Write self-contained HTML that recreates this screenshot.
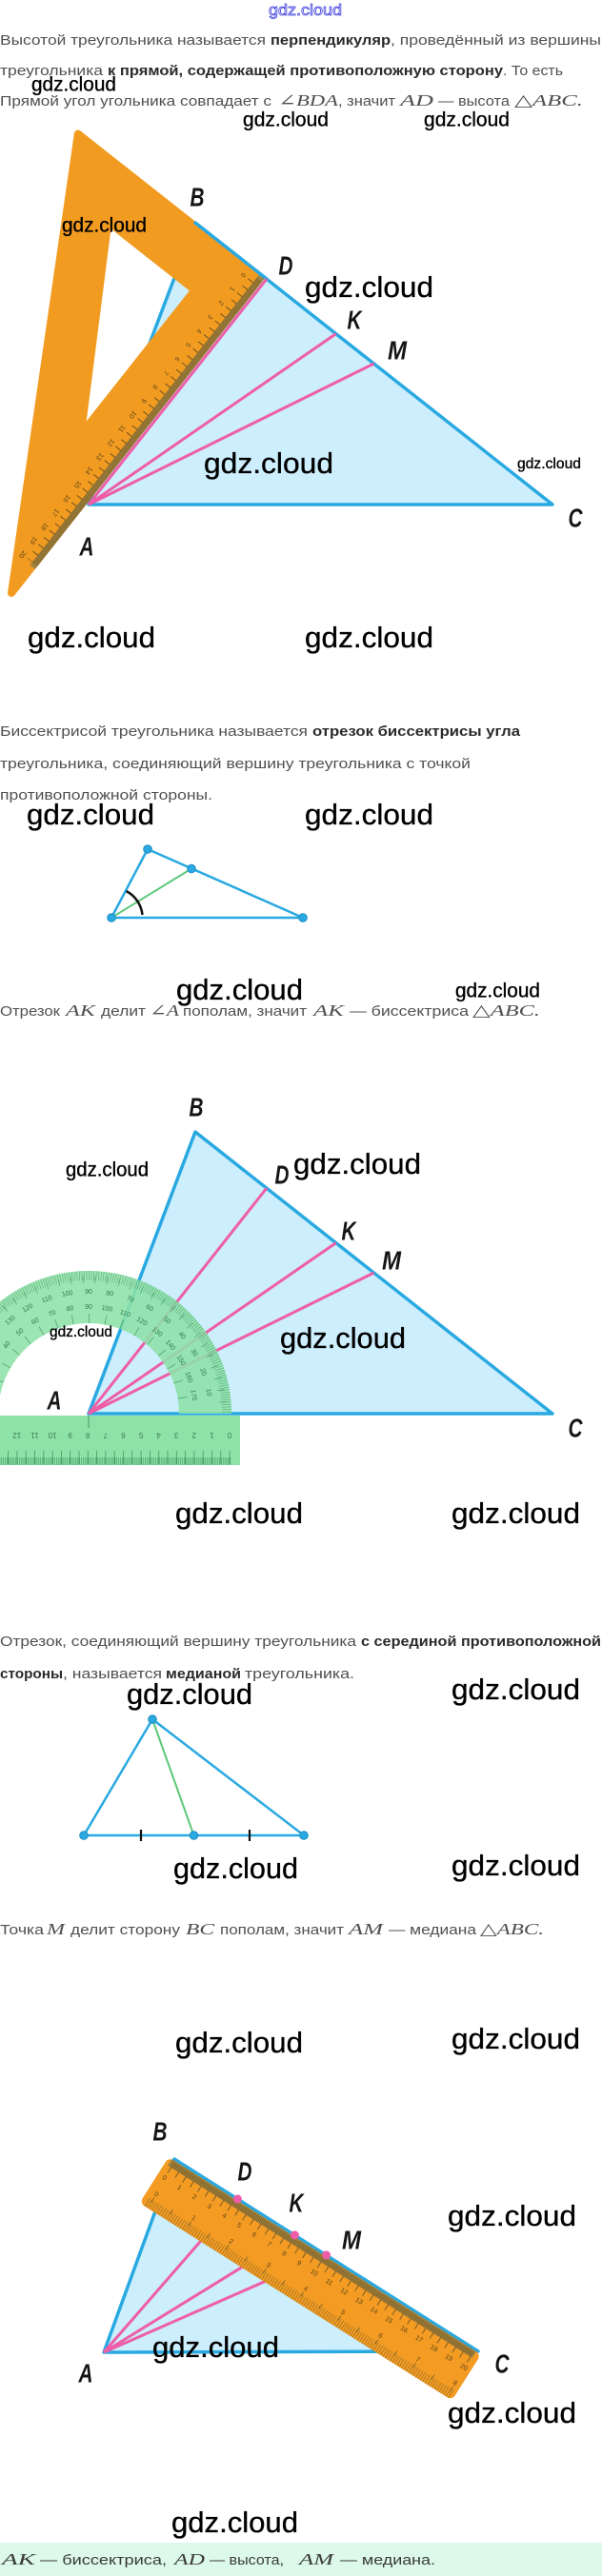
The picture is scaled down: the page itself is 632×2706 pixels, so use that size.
<!DOCTYPE html>
<html><head><meta charset="utf-8">
<style>
html,body{margin:0;padding:0;background:#fff;}
svg{display:block}
.r{font-family:"Liberation Sans","DejaVu Sans",sans-serif;font-size:15px;fill:#505050}
.b{font-family:"Liberation Sans","DejaVu Sans",sans-serif;font-size:15px;font-weight:bold;fill:#2a2a2a}
.m{font-family:"Liberation Serif","DejaVu Serif",serif;font-style:italic;font-size:17px;fill:#505050}
.w{font-family:"Liberation Sans","DejaVu Sans",sans-serif;fill:#000;stroke:#000;stroke-width:0.35}
.L{font-family:"Liberation Sans","DejaVu Sans",sans-serif;font-style:italic;font-weight:bold;font-size:28px;fill:#151515}
.pn{font-family:"Liberation Sans",sans-serif;font-size:7px;fill:#2f7a4a;text-anchor:middle}
.sn{font-family:"Liberation Sans",sans-serif;font-size:7px;fill:#5a4418;text-anchor:middle}
.rn{font-family:"Liberation Sans",sans-serif;font-size:8px;fill:#3d7a50;text-anchor:middle}
</style></head><body>
<svg xmlns="http://www.w3.org/2000/svg" width="632" height="2706" viewBox="0 0 632 2706">
<rect x="0" y="0" width="632" height="2706" fill="#fff"/>
<defs>
<clipPath id="up"><rect x="-100" y="1300" width="400" height="185"/></clipPath>
</defs>

<!-- top link -->
<text x="282" y="16" font-family="Liberation Sans, sans-serif" font-size="17" textLength="77" lengthAdjust="spacingAndGlyphs" style="fill:#fff;stroke:#4040e0;stroke-width:0.8">gdz.cloud</text>

<!-- Paragraph 1 -->
<text class="r" x="0" y="47" textLength="279" lengthAdjust="spacingAndGlyphs">Высотой треугольника называется</text>
<text class="b" x="284" y="47" textLength="126" lengthAdjust="spacingAndGlyphs">перпендикуляр</text>
<text class="r" x="410" y="47" textLength="221" lengthAdjust="spacingAndGlyphs">, проведённый из вершины</text>
<text class="r" x="0" y="79" textLength="108" lengthAdjust="spacingAndGlyphs">треугольника</text>
<text class="b" x="113" y="79" textLength="415" lengthAdjust="spacingAndGlyphs">к прямой, содержащей противоположную сторону</text>
<text class="r" x="528" y="79" textLength="63" lengthAdjust="spacingAndGlyphs">. То есть</text>
<text class="r" x="0" y="111" textLength="285" lengthAdjust="spacingAndGlyphs">Прямой угол угольника совпадает с</text>
<text class="m" x="292" y="111" textLength="63" lengthAdjust="spacingAndGlyphs">∠BDA</text>
<text class="r" x="355" y="111" textLength="60" lengthAdjust="spacingAndGlyphs">, значит</text>
<text class="m" x="420" y="111" textLength="35" lengthAdjust="spacingAndGlyphs">AD</text>
<text class="r" x="460" y="111" textLength="75" lengthAdjust="spacingAndGlyphs">— высота</text>
<text class="m" x="540" y="111" textLength="72" lengthAdjust="spacingAndGlyphs">△ABC.</text>

<!-- Figure 1 -->
<polygon points="93,530 205,234 580,530" fill="#cdeefc" stroke="#29a9e1" stroke-width="3.5" stroke-linejoin="round"/>
<line x1="93" y1="530" x2="352.7" y2="350.6" stroke="#ee5ea8" stroke-width="3"/>
<line x1="93" y1="530" x2="392.5" y2="382" stroke="#ee5ea8" stroke-width="3"/>
<g transform="translate(280 293) rotate(128.27)">
  <path d="M3,6 L425,6 L3,250 Z M56,52 L56,168 L249,52 Z" fill="#f29b21" fill-rule="evenodd" stroke="#f29b21" stroke-width="8" stroke-linejoin="round"/>
  <rect x="0" y="2" width="390" height="7" fill="#a5843f"/>
  <line x1="6" y1="5.5" x2="386" y2="5.5" stroke="#6b5220" stroke-width="7" stroke-dasharray="0.6 1.27"/>
  <line x1="11.5" y1="12" x2="386" y2="12" stroke="#6b5220" stroke-width="7" stroke-dasharray="1 8.35"/>
  <text class="sn" x="12" y="24">0</text><text class="sn" x="30.7" y="24">1</text><text class="sn" x="49.4" y="24">2</text><text class="sn" x="68.1" y="24">3</text><text class="sn" x="86.8" y="24">4</text><text class="sn" x="105.5" y="24">5</text><text class="sn" x="124.2" y="24">6</text><text class="sn" x="142.9" y="24">7</text><text class="sn" x="161.6" y="24">8</text><text class="sn" x="180.3" y="24">9</text><text class="sn" x="199" y="24">10</text><text class="sn" x="217.7" y="24">11</text><text class="sn" x="236.4" y="24">12</text><text class="sn" x="255.1" y="24">13</text><text class="sn" x="273.8" y="24">14</text><text class="sn" x="292.5" y="24">15</text><text class="sn" x="311.2" y="24">16</text><text class="sn" x="329.9" y="24">17</text><text class="sn" x="348.6" y="24">18</text><text class="sn" x="367.3" y="24">19</text><text class="sn" x="386" y="24">20</text>
</g>
<line x1="205" y1="234" x2="280" y2="293" stroke="#29a9e1" stroke-width="3.5" stroke-linecap="round"/>
<line x1="93" y1="530" x2="280" y2="293" stroke="#ee5ea8" stroke-width="3"/>
<text class="L" x="199.5" y="216.5" textLength="15" lengthAdjust="spacingAndGlyphs">B</text>
<text class="L" x="292.5" y="288.5" textLength="15" lengthAdjust="spacingAndGlyphs">D</text>
<text class="L" x="364.5" y="345.5" textLength="15" lengthAdjust="spacingAndGlyphs">K</text>
<text class="L" x="407" y="377.5" textLength="20" lengthAdjust="spacingAndGlyphs">M</text>
<text class="L" x="596.5" y="553.5" textLength="15" lengthAdjust="spacingAndGlyphs">C</text>
<text class="L" x="83.5" y="583.5" textLength="15" lengthAdjust="spacingAndGlyphs">A</text>

<!-- Paragraph 2 -->
<text class="r" x="0" y="773" textLength="323" lengthAdjust="spacingAndGlyphs">Биссектрисой треугольника называется</text>
<text class="b" x="328" y="773" textLength="218" lengthAdjust="spacingAndGlyphs">отрезок биссектрисы угла</text>
<text class="r" x="0" y="807" textLength="494" lengthAdjust="spacingAndGlyphs">треугольника, соединяющий вершину треугольника с точкой</text>
<text class="r" x="0" y="840" textLength="223" lengthAdjust="spacingAndGlyphs">противоположной стороны.</text>

<!-- Small bisector triangle -->
<polygon points="117,964 155,892 318,964" fill="none" stroke="#29a9e1" stroke-width="2.5" stroke-linejoin="round"/>
<line x1="117" y1="964" x2="201" y2="912.5" stroke="#5cc878" stroke-width="2"/>
<path d="M149.5,961 A32,32 0 0 0 132.5,936" fill="none" stroke="#111" stroke-width="2.5"/>
<g fill="#29a9e1" stroke="#1f8cc4" stroke-width="1">
<circle cx="117" cy="964" r="4.3"/><circle cx="155" cy="892" r="4.3"/><circle cx="201" cy="912.5" r="4.3"/><circle cx="318" cy="964" r="4.3"/>
</g>

<!-- Paragraph 3 -->
<text class="r" x="0" y="1067" textLength="63" lengthAdjust="spacingAndGlyphs">Отрезок</text>
<text class="m" x="69" y="1067" textLength="31" lengthAdjust="spacingAndGlyphs">AK</text>
<text class="r" x="106" y="1067" textLength="47" lengthAdjust="spacingAndGlyphs">делит</text>
<text class="m" x="157" y="1067" textLength="31" lengthAdjust="spacingAndGlyphs">∠A</text>
<text class="r" x="192" y="1067" textLength="130" lengthAdjust="spacingAndGlyphs">пополам, значит</text>
<text class="m" x="329" y="1067" textLength="32" lengthAdjust="spacingAndGlyphs">AK</text>
<text class="r" x="367" y="1067" textLength="125" lengthAdjust="spacingAndGlyphs">— биссектриса</text>
<text class="m" x="496" y="1067" textLength="71" lengthAdjust="spacingAndGlyphs">△ABC.</text>

<!-- Figure 2 -->
<polygon points="93,1485 205,1189 580,1485" fill="#cdeefc" stroke="#29a9e1" stroke-width="3.5" stroke-linejoin="round"/>
<line x1="93" y1="1485" x2="280" y2="1248" stroke="#ee5ea8" stroke-width="3"/>
<line x1="93" y1="1485" x2="352.7" y2="1305.6" stroke="#ee5ea8" stroke-width="3"/>
<line x1="93" y1="1485" x2="392.5" y2="1337" stroke="#ee5ea8" stroke-width="3"/>
<g opacity="0.88">
  <path d="M-57,1485 A150,150 0 0 1 243,1485 L188,1485 A95,95 0 0 0 -2,1485 Z" fill="#8ee2a8"/>
  <g clip-path="url(#up)" fill="none" stroke="#3f9a60">
    <circle cx="93" cy="1485" r="145" stroke-width="10" stroke-dasharray="0.5 2.0307"/>
    <circle cx="93" cy="1485" r="141" stroke-width="8" stroke-dasharray="0.7 11.953"/>
    <circle cx="93" cy="1485" r="100" stroke-width="10" stroke-dasharray="0.8 16.653"/>
  </g>
</g>
<g>
<text class="pn" transform="translate(93 1485) rotate(80) translate(0 -126)">10</text>
<text class="pn" transform="translate(93 1485) rotate(70) translate(0 -126)">20</text>
<text class="pn" transform="translate(93 1485) rotate(60) translate(0 -126)">30</text>
<text class="pn" transform="translate(93 1485) rotate(50) translate(0 -126)">40</text>
<text class="pn" transform="translate(93 1485) rotate(40) translate(0 -126)">50</text>
<text class="pn" transform="translate(93 1485) rotate(30) translate(0 -126)">60</text>
<text class="pn" transform="translate(93 1485) rotate(20) translate(0 -126)">70</text>
<text class="pn" transform="translate(93 1485) rotate(10) translate(0 -126)">80</text>
<text class="pn" transform="translate(93 1485) rotate(0) translate(0 -126)">90</text>
<text class="pn" transform="translate(93 1485) rotate(-10) translate(0 -126)">100</text>
<text class="pn" transform="translate(93 1485) rotate(-20) translate(0 -126)">110</text>
<text class="pn" transform="translate(93 1485) rotate(-30) translate(0 -126)">120</text>
<text class="pn" transform="translate(93 1485) rotate(-40) translate(0 -126)">130</text>
<text class="pn" transform="translate(93 1485) rotate(-50) translate(0 -126)">140</text>
<text class="pn" transform="translate(93 1485) rotate(-60) translate(0 -126)">150</text>
<text class="pn" transform="translate(93 1485) rotate(-70) translate(0 -126)">160</text>
<text class="pn" transform="translate(93 1485) rotate(-80) translate(0 -126)">170</text>
<text class="pn" transform="translate(93 1485) rotate(80) translate(0 -110)">170</text>
<text class="pn" transform="translate(93 1485) rotate(70) translate(0 -110)">160</text>
<text class="pn" transform="translate(93 1485) rotate(60) translate(0 -110)">150</text>
<text class="pn" transform="translate(93 1485) rotate(50) translate(0 -110)">140</text>
<text class="pn" transform="translate(93 1485) rotate(40) translate(0 -110)">130</text>
<text class="pn" transform="translate(93 1485) rotate(30) translate(0 -110)">120</text>
<text class="pn" transform="translate(93 1485) rotate(20) translate(0 -110)">110</text>
<text class="pn" transform="translate(93 1485) rotate(10) translate(0 -110)">100</text>
<text class="pn" transform="translate(93 1485) rotate(0) translate(0 -110)">90</text>
<text class="pn" transform="translate(93 1485) rotate(-10) translate(0 -110)">80</text>
<text class="pn" transform="translate(93 1485) rotate(-20) translate(0 -110)">70</text>
<text class="pn" transform="translate(93 1485) rotate(-30) translate(0 -110)">60</text>
<text class="pn" transform="translate(93 1485) rotate(-40) translate(0 -110)">50</text>
<text class="pn" transform="translate(93 1485) rotate(-50) translate(0 -110)">40</text>
<text class="pn" transform="translate(93 1485) rotate(-60) translate(0 -110)">30</text>
<text class="pn" transform="translate(93 1485) rotate(-70) translate(0 -110)">20</text>
<text class="pn" transform="translate(93 1485) rotate(-80) translate(0 -110)">10</text>
</g>
<!-- protractor base ruler -->
<rect x="0" y="1487" width="252" height="52" fill="#8ee2a8"/>
<line x1="93" y1="1487" x2="93" y2="1500" stroke="#3f9a60" stroke-width="1"/>
<line x1="242" y1="1535" x2="0" y2="1535" stroke="#3f9a60" stroke-width="8" stroke-dasharray="0.6 1.26"/>
<line x1="241.5" y1="1531" x2="0" y2="1531" stroke="#3f9a60" stroke-width="14" stroke-dasharray="0.8 8.5"/>
<g>
<text class="rn" x="241" y="1505" transform="rotate(180 241 1505)">0</text>
<text class="rn" x="222.4" y="1505" transform="rotate(180 222.4 1505)">1</text>
<text class="rn" x="203.8" y="1505" transform="rotate(180 203.8 1505)">2</text>
<text class="rn" x="185.2" y="1505" transform="rotate(180 185.2 1505)">3</text>
<text class="rn" x="166.6" y="1505" transform="rotate(180 166.6 1505)">4</text>
<text class="rn" x="148" y="1505" transform="rotate(180 148 1505)">5</text>
<text class="rn" x="129.4" y="1505" transform="rotate(180 129.4 1505)">6</text>
<text class="rn" x="110.8" y="1505" transform="rotate(180 110.8 1505)">7</text>
<text class="rn" x="92.2" y="1505" transform="rotate(180 92.2 1505)">8</text>
<text class="rn" x="73.6" y="1505" transform="rotate(180 73.6 1505)">9</text>
<text class="rn" x="55" y="1505" transform="rotate(180 55 1505)">10</text>
<text class="rn" x="36.4" y="1505" transform="rotate(180 36.4 1505)">11</text>
<text class="rn" x="17.8" y="1505" transform="rotate(180 17.8 1505)">12</text>
</g>
<text class="L" x="198.5" y="1172.5" textLength="15" lengthAdjust="spacingAndGlyphs">B</text>
<text class="L" x="288.5" y="1243.5" textLength="15" lengthAdjust="spacingAndGlyphs">D</text>
<text class="L" x="358.5" y="1302.5" textLength="15" lengthAdjust="spacingAndGlyphs">K</text>
<text class="L" x="401" y="1333.5" textLength="20" lengthAdjust="spacingAndGlyphs">M</text>
<text class="L" x="596.5" y="1509.5" textLength="15" lengthAdjust="spacingAndGlyphs">C</text>
<text class="L" x="49.5" y="1480.5" textLength="15" lengthAdjust="spacingAndGlyphs">A</text>

<!-- Paragraph 4 -->
<text class="r" x="0" y="1729" textLength="374" lengthAdjust="spacingAndGlyphs">Отрезок, соединяющий вершину треугольника</text>
<text class="b" x="379" y="1729" textLength="252" lengthAdjust="spacingAndGlyphs">с серединой противоположной</text>
<text class="b" x="0" y="1763" textLength="66" lengthAdjust="spacingAndGlyphs">стороны</text>
<text class="r" x="66" y="1763" textLength="104" lengthAdjust="spacingAndGlyphs">, называется</text>
<text class="b" x="174" y="1763" textLength="79" lengthAdjust="spacingAndGlyphs">медианой</text>
<text class="r" x="257" y="1763" textLength="115" lengthAdjust="spacingAndGlyphs">треугольника.</text>

<!-- Median triangle -->
<polygon points="88,1928 160,1806 319,1928" fill="none" stroke="#29a9e1" stroke-width="2.5" stroke-linejoin="round"/>
<line x1="160" y1="1806" x2="203.5" y2="1928" stroke="#5cc878" stroke-width="2"/>
<line x1="148" y1="1922" x2="148" y2="1934" stroke="#111" stroke-width="2.2"/>
<line x1="262" y1="1922" x2="262" y2="1934" stroke="#111" stroke-width="2.2"/>
<g fill="#29a9e1" stroke="#1f8cc4" stroke-width="1">
<circle cx="88" cy="1928" r="4.3"/><circle cx="160" cy="1806" r="4.3"/><circle cx="203.5" cy="1928" r="4.3"/><circle cx="319" cy="1928" r="4.3"/>
</g>

<!-- Paragraph 5 -->
<text class="r" x="0" y="2032" textLength="46" lengthAdjust="spacingAndGlyphs">Точка</text>
<text class="m" x="49" y="2032" textLength="19" lengthAdjust="spacingAndGlyphs">M</text>
<text class="r" x="74" y="2032" textLength="115" lengthAdjust="spacingAndGlyphs">делит сторону</text>
<text class="m" x="195" y="2032" textLength="30" lengthAdjust="spacingAndGlyphs">BC</text>
<text class="r" x="231" y="2032" textLength="130" lengthAdjust="spacingAndGlyphs">пополам, значит</text>
<text class="m" x="366" y="2032" textLength="36" lengthAdjust="spacingAndGlyphs">AM</text>
<text class="r" x="408" y="2032" textLength="92" lengthAdjust="spacingAndGlyphs">— медиана</text>
<text class="m" x="504" y="2032" textLength="67" lengthAdjust="spacingAndGlyphs">△ABC.</text>

<!-- Figure 3 -->
<polygon points="109,2471 183,2268 502,2470" fill="#cdeefc" stroke="#29a9e1" stroke-width="3.5" stroke-linejoin="round"/>
<line x1="109" y1="2471" x2="250" y2="2309" stroke="#ee5ea8" stroke-width="3"/>
<line x1="109" y1="2471" x2="310" y2="2347" stroke="#ee5ea8" stroke-width="3"/>
<line x1="109" y1="2471" x2="343" y2="2368" stroke="#ee5ea8" stroke-width="3"/>
<g transform="translate(177 2266) rotate(32.3)">
  <rect x="0" y="0" width="388" height="57" rx="6" fill="#f39b22"/>
  <rect x="4" y="0" width="378" height="8" fill="#a2813c"/>
  <line x1="7" y1="4.5" x2="381" y2="4.5" stroke="#6b5220" stroke-width="6" stroke-dasharray="0.6 1.26"/>
  <line x1="7.5" y1="11" x2="381" y2="11" stroke="#7a5d26" stroke-width="7" stroke-dasharray="1 8.3"/>
  <line x1="6" y1="52" x2="384" y2="52" stroke="#8a6a2a" stroke-width="10" stroke-dasharray="0.6 2.3"/>
  <line x1="9.5" y1="47" x2="384" y2="47" stroke="#8a6a2a" stroke-width="6" stroke-dasharray="0.9 22.3"/>
  <text class="sn" x="8" y="23">0</text><text class="sn" x="26.6" y="23">1</text><text class="sn" x="45.2" y="23">2</text><text class="sn" x="63.8" y="23">3</text><text class="sn" x="82.4" y="23">4</text><text class="sn" x="101" y="23">5</text><text class="sn" x="119.6" y="23">6</text><text class="sn" x="138.2" y="23">7</text><text class="sn" x="156.8" y="23">8</text><text class="sn" x="175.4" y="23">9</text><text class="sn" x="194" y="23">10</text><text class="sn" x="212.6" y="23">11</text><text class="sn" x="231.2" y="23">12</text><text class="sn" x="249.8" y="23">13</text><text class="sn" x="268.4" y="23">14</text><text class="sn" x="287" y="23">15</text><text class="sn" x="305.6" y="23">16</text><text class="sn" x="324.2" y="23">17</text><text class="sn" x="342.8" y="23">18</text><text class="sn" x="361.4" y="23">19</text><text class="sn" x="380" y="23">20</text>
  <text class="sn" x="10" y="42">0</text><text class="sn" x="56.4" y="42">1</text><text class="sn" x="102.8" y="42">2</text><text class="sn" x="149.2" y="42">3</text><text class="sn" x="195.6" y="42">4</text><text class="sn" x="242" y="42">5</text><text class="sn" x="288.4" y="42">6</text><text class="sn" x="334.8" y="42">7</text><text class="sn" x="381.2" y="42">8</text>
  <g fill="#ee5ea8">
    <circle cx="84.7" cy="-1.5" r="4.5"/><circle cx="155.7" cy="-1.5" r="4.5"/><circle cx="194.9" cy="-1.5" r="4.5"/>
  </g>
</g>
<text class="L" x="160.5" y="2248.5" textLength="15" lengthAdjust="spacingAndGlyphs">B</text>
<text class="L" x="249.5" y="2290.5" textLength="15" lengthAdjust="spacingAndGlyphs">D</text>
<text class="L" x="303.5" y="2323.5" textLength="15" lengthAdjust="spacingAndGlyphs">K</text>
<text class="L" x="359" y="2362.5" textLength="20" lengthAdjust="spacingAndGlyphs">M</text>
<text class="L" x="519.5" y="2492.5" textLength="15" lengthAdjust="spacingAndGlyphs">C</text>
<text class="L" x="82.5" y="2502.5" textLength="15" lengthAdjust="spacingAndGlyphs">A</text>

<!-- Bottom bar -->
<rect x="0" y="2671" width="632" height="35" fill="#dcf9ea"/>
<text class="m" x="2" y="2694" textLength="35" lengthAdjust="spacingAndGlyphs" style="fill:#3a3a3a">AK</text>
<text class="r" x="42" y="2694" textLength="133" lengthAdjust="spacingAndGlyphs" style="fill:#3a3a3a">— биссектриса,</text>
<text class="m" x="183" y="2694" textLength="32" lengthAdjust="spacingAndGlyphs" style="fill:#3a3a3a">AD</text>
<text class="r" x="220" y="2694" textLength="78" lengthAdjust="spacingAndGlyphs" style="fill:#3a3a3a">— высота,</text>
<text class="m" x="314" y="2694" textLength="36" lengthAdjust="spacingAndGlyphs" style="fill:#3a3a3a">AM</text>
<text class="r" x="357" y="2694" textLength="100" lengthAdjust="spacingAndGlyphs" style="fill:#3a3a3a">— медиана.</text>

<!-- Watermarks -->
<g>
<text class="w" x="33" y="95.5" font-size="21" textLength="89" lengthAdjust="spacingAndGlyphs">gdz.cloud</text>
<text class="w" x="255" y="132.5" font-size="21" textLength="90" lengthAdjust="spacingAndGlyphs">gdz.cloud</text>
<text class="w" x="445" y="132.5" font-size="21" textLength="90" lengthAdjust="spacingAndGlyphs">gdz.cloud</text>
<text class="w" x="65" y="243.5" font-size="21" textLength="89" lengthAdjust="spacingAndGlyphs">gdz.cloud</text>
<text class="w" x="320" y="312" font-size="31" textLength="135" lengthAdjust="spacingAndGlyphs">gdz.cloud</text>
<text class="w" x="214" y="497" font-size="31" textLength="136" lengthAdjust="spacingAndGlyphs">gdz.cloud</text>
<text class="w" x="543" y="492" font-size="16" textLength="67" lengthAdjust="spacingAndGlyphs">gdz.cloud</text>
<text class="w" x="29" y="680" font-size="31" textLength="134" lengthAdjust="spacingAndGlyphs">gdz.cloud</text>
<text class="w" x="320" y="680" font-size="31" textLength="135" lengthAdjust="spacingAndGlyphs">gdz.cloud</text>
<text class="w" x="28" y="866" font-size="31" textLength="134" lengthAdjust="spacingAndGlyphs">gdz.cloud</text>
<text class="w" x="320" y="866" font-size="31" textLength="135" lengthAdjust="spacingAndGlyphs">gdz.cloud</text>
<text class="w" x="185" y="1050" font-size="31" textLength="133" lengthAdjust="spacingAndGlyphs">gdz.cloud</text>
<text class="w" x="478" y="1047.5" font-size="21" textLength="89" lengthAdjust="spacingAndGlyphs">gdz.cloud</text>
<text class="w" x="69" y="1235.5" font-size="21" textLength="87" lengthAdjust="spacingAndGlyphs">gdz.cloud</text>
<text class="w" x="308" y="1233" font-size="31" textLength="134" lengthAdjust="spacingAndGlyphs">gdz.cloud</text>
<text class="w" x="294" y="1416" font-size="31" textLength="132" lengthAdjust="spacingAndGlyphs">gdz.cloud</text>
<text class="w" x="52" y="1404" font-size="16" textLength="66" lengthAdjust="spacingAndGlyphs">gdz.cloud</text>
<text class="w" x="184" y="1600" font-size="31" textLength="134" lengthAdjust="spacingAndGlyphs">gdz.cloud</text>
<text class="w" x="474" y="1600" font-size="31" textLength="135" lengthAdjust="spacingAndGlyphs">gdz.cloud</text>
<text class="w" x="133" y="1790" font-size="31" textLength="132" lengthAdjust="spacingAndGlyphs">gdz.cloud</text>
<text class="w" x="474" y="1785" font-size="31" textLength="135" lengthAdjust="spacingAndGlyphs">gdz.cloud</text>
<text class="w" x="182" y="1973" font-size="31" textLength="131" lengthAdjust="spacingAndGlyphs">gdz.cloud</text>
<text class="w" x="474" y="1970" font-size="31" textLength="135" lengthAdjust="spacingAndGlyphs">gdz.cloud</text>
<text class="w" x="184" y="2156" font-size="31" textLength="134" lengthAdjust="spacingAndGlyphs">gdz.cloud</text>
<text class="w" x="474" y="2152" font-size="31" textLength="135" lengthAdjust="spacingAndGlyphs">gdz.cloud</text>
<text class="w" x="470" y="2338" font-size="31" textLength="135" lengthAdjust="spacingAndGlyphs">gdz.cloud</text>
<text class="w" x="160" y="2476" font-size="31" textLength="133" lengthAdjust="spacingAndGlyphs">gdz.cloud</text>
<text class="w" x="470" y="2545" font-size="31" textLength="135" lengthAdjust="spacingAndGlyphs">gdz.cloud</text>
<text class="w" x="180" y="2660" font-size="31" textLength="133" lengthAdjust="spacingAndGlyphs">gdz.cloud</text>
</g>
</svg>
</body></html>
